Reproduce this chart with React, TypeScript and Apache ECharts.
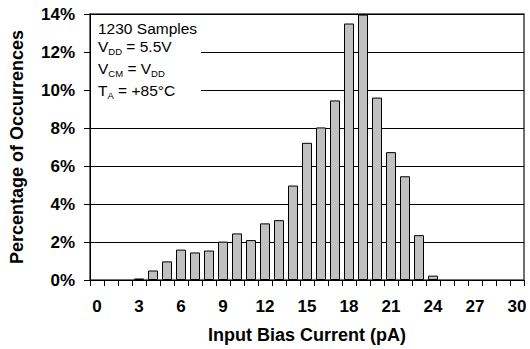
import React, { useEffect, useRef } from "react";
import * as echarts from "echarts";

const categories: string[] = [
  "0", "1", "2", "3", "4", "5", "6", "7", "8", "9", "10",
  "11", "12", "13", "14", "15", "16", "17", "18", "19", "20",
  "21", "22", "23", "24", "25", "26", "27", "28", "29", "30",
];

// Percentage of occurrences per input bias current bin (pA)
const percentages: number[] = [
  0, 0, 0, 0.08, 0.5, 0.98, 1.6, 1.45, 1.55, 2.02, 2.45,
  2.1, 2.98, 3.15, 4.97, 7.22, 8.03, 9.45, 13.5, 13.97, 9.6,
  6.73, 5.46, 2.36, 0.23, 0, 0, 0, 0, 0, 0,
];

const yTicks = { min: 0, max: 14, interval: 2 };

const xTitle = "Input Bias Current (pA)";
const yTitle = "Percentage of Occurrences";

const FONT = '"Liberation Sans", Arial, Helvetica, sans-serif';

export default function App() {
  const ref = useRef<HTMLDivElement>(null);

  useEffect(() => {
    if (!ref.current) return;
    const chart = echarts.init(ref.current, undefined, { renderer: "svg" });

    const boxText = (y: number, text: string, z: number) => ({
      type: "text",
      x: 98,
      y,
      z,
      style: {
        text,
        fill: "#000",
        fontFamily: FONT,
        fontSize: 15.5,
        textVerticalAlign: "middle",
        verticalAlign: "middle",
        rich: {
          m: { fontSize: 15.5, fontFamily: FONT, fill: "#000", lineHeight: 20, verticalAlign: "middle" },
          s: { fontSize: 9.5, fontFamily: FONT, fill: "#000", lineHeight: 10, verticalAlign: "bottom" },
        },
      },
    });

    chart.setOption({
      animation: false,
      backgroundColor: "#ffffff",
      grid: {
        left: 90,
        right: 6,
        top: 14,
        bottom: 67,
        show: true,
        borderColor: "#404040",
        borderWidth: 1.5,
        backgroundColor: "transparent",
      },
      xAxis: {
        type: "category",
        data: categories,
        boundaryGap: true,
        axisLine: { show: true, lineStyle: { color: "#000", width: 1 } },
        axisTick: { show: true, interval: 0, length: 6, alignWithLabel: false, lineStyle: { color: "#000" } },
        axisLabel: {
          interval: 2,
          color: "#000",
          fontSize: 17,
          fontWeight: "bold",
          fontFamily: FONT,
          margin: 18,
        },
        name: xTitle,
        nameLocation: "middle",
        nameGap: 46,
        nameTextStyle: { color: "#000", fontSize: 18, fontWeight: "bold", fontFamily: FONT },
        splitLine: { show: false },
      },
      yAxis: {
        type: "value",
        min: yTicks.min,
        max: yTicks.max,
        interval: yTicks.interval,
        axisLine: { show: true, lineStyle: { color: "#000", width: 1 } },
        axisTick: { show: true, length: 6, lineStyle: { color: "#000" } },
        axisLabel: {
          formatter: "{value}%",
          color: "#000",
          fontSize: 17,
          fontWeight: "bold",
          fontFamily: FONT,
          margin: 15,
        },
        splitLine: { show: true, lineStyle: { color: "#000", width: 1 } },
        name: yTitle,
        nameLocation: "middle",
        nameGap: 64,
        nameTextStyle: { color: "#000", fontSize: 18, fontWeight: "bold", fontFamily: FONT },
      },
      series: [
        {
          type: "bar",
          // empty bins are left undrawn (no zero-height outline on the axis)
          data: percentages.map((v) => (v === 0 ? null : v)),
          barWidth: 10,
          itemStyle: { color: "#C0C0C0", borderColor: "#000", borderWidth: 1 },
          z: 3,
        },
      ],
      graphic: [
        {
          type: "rect",
          z: 100,
          shape: { x: 91, y: 15, width: 110, height: 90 },
          style: { fill: "#ffffff" },
        },
        boxText(28.5, "{m|1230 Samples}", 101),
        boxText(46, "{m|V}{s|DD}{m| = 5.5V}", 101),
        boxText(68, "{m|V}{s|CM}{m| = V}{s|DD}", 101),
        boxText(90.5, "{m|T}{s|A}{m| = +85°C}", 101),
      ],
    });

    return () => chart.dispose();
  }, []);

  return (
    <div
      ref={ref}
      style={{ position: "fixed", left: 0, top: 0, width: 530, height: 349, background: "#fff" }}
    />
  );
}
